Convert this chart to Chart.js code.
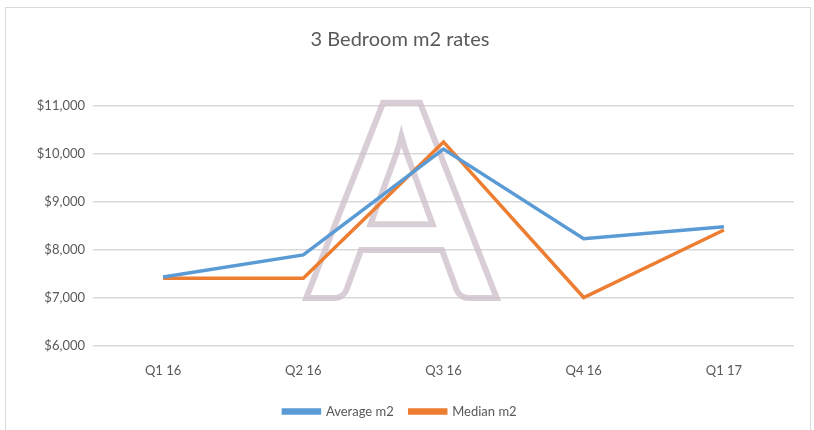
<!DOCTYPE html>
<html>
<head>
<meta charset="utf-8">
<script src="https://cdn.jsdelivr.net/npm/chart.js@4.4.0/dist/chart.umd.min.js"></script>
<style>
  body { margin: 0; background: #fff; }
  #frame { position: absolute; left: 5px; top: 7px; width: 806px; height: 430px; border: 1px solid #d9d9d9; box-sizing: border-box; }
  #chart { display: block; }
</style>
</head>
<body>
<div id="frame"><canvas id="chart" width="804" height="422"></canvas></div>
<script>
'use strict';
var quarters = ['Q1 16', 'Q2 16', 'Q3 16', 'Q4 16', 'Q1 17'];
var averageM2 = [7430, 7890, 10100, 8230, 8480];
var medianM2 = [7400, 7400, 10250, 7000, 8410];
var yMin = 6000, yMax = 11000, yStep = 1000;

var font = 'Lato, "Open Sans", sans-serif';
var grey = '#595959';

// faint "A" logo behind the lines
var watermark = {
    id: 'watermark',
    beforeDatasetsDraw: function (chart) {
        var ctx = chart.ctx, area = chart.chartArea;
        var x = (area.left + area.right) / 2 - 42;
        ctx.save();
        ctx.font = 'bold 270px ' + font;
        ctx.textAlign = 'center';
        ctx.textBaseline = 'alphabetic';
        ctx.lineWidth = 6;
        ctx.strokeStyle = 'rgba(205, 190, 200, 0.75)';
        ctx.strokeText('A', x, area.top + 192);
        ctx.restore();
    }
};

new Chart(document.getElementById('chart').getContext('2d'), {
    type: 'line',
    data: {
        labels: quarters,
        datasets: [{
            label: 'Average m2',
            data: averageM2,
            borderColor: '#5b9bd5',
            backgroundColor: '#5b9bd5',
            borderWidth: 3.5,
            pointRadius: 0,
            tension: 0
        }, {
            label: 'Median m2',
            data: medianM2,
            borderColor: '#ed7d31',
            backgroundColor: '#ed7d31',
            borderWidth: 3.5,
            pointRadius: 0,
            tension: 0
        }]
    },
    options: {
        responsive: false,
        animation: false,
        layout: { padding: { left: 0, right: 16, top: 0, bottom: 2 } },
        plugins: {
            title: {
                display: true,
                text: '3 Bedroom m2 rates',
                color: grey,
                font: { family: font, size: 20, weight: 'normal' },
                padding: { top: 20, bottom: 54 }
            },
            legend: {
                position: 'bottom',
                labels: {
                    color: grey,
                    font: { family: font, size: 13 },
                    boxWidth: 36,
                    boxHeight: 3,
                    padding: 16
                }
            },
            tooltip: { enabled: false }
        },
        scales: {
            x: {
                offset: true,
                grid: { display: false },
                border: { display: false },
                ticks: { color: grey, font: { family: font, size: 13 }, padding: 10 }
            },
            y: {
                min: yMin,
                max: yMax,
                afterFit: function (scale) { scale.width = 87; },
                grid: { color: '#d9d9d9', lineWidth: 1.5, drawTicks: false },
                border: { display: false },
                ticks: {
                    stepSize: yStep,
                    color: grey,
                    padding: 8,
                    font: { family: font, size: 13 },
                    callback: function (v) { return '$' + v.toLocaleString('en-US'); }
                }
            }
        }
    },
    plugins: [watermark]
});
</script>
</body>
</html>
